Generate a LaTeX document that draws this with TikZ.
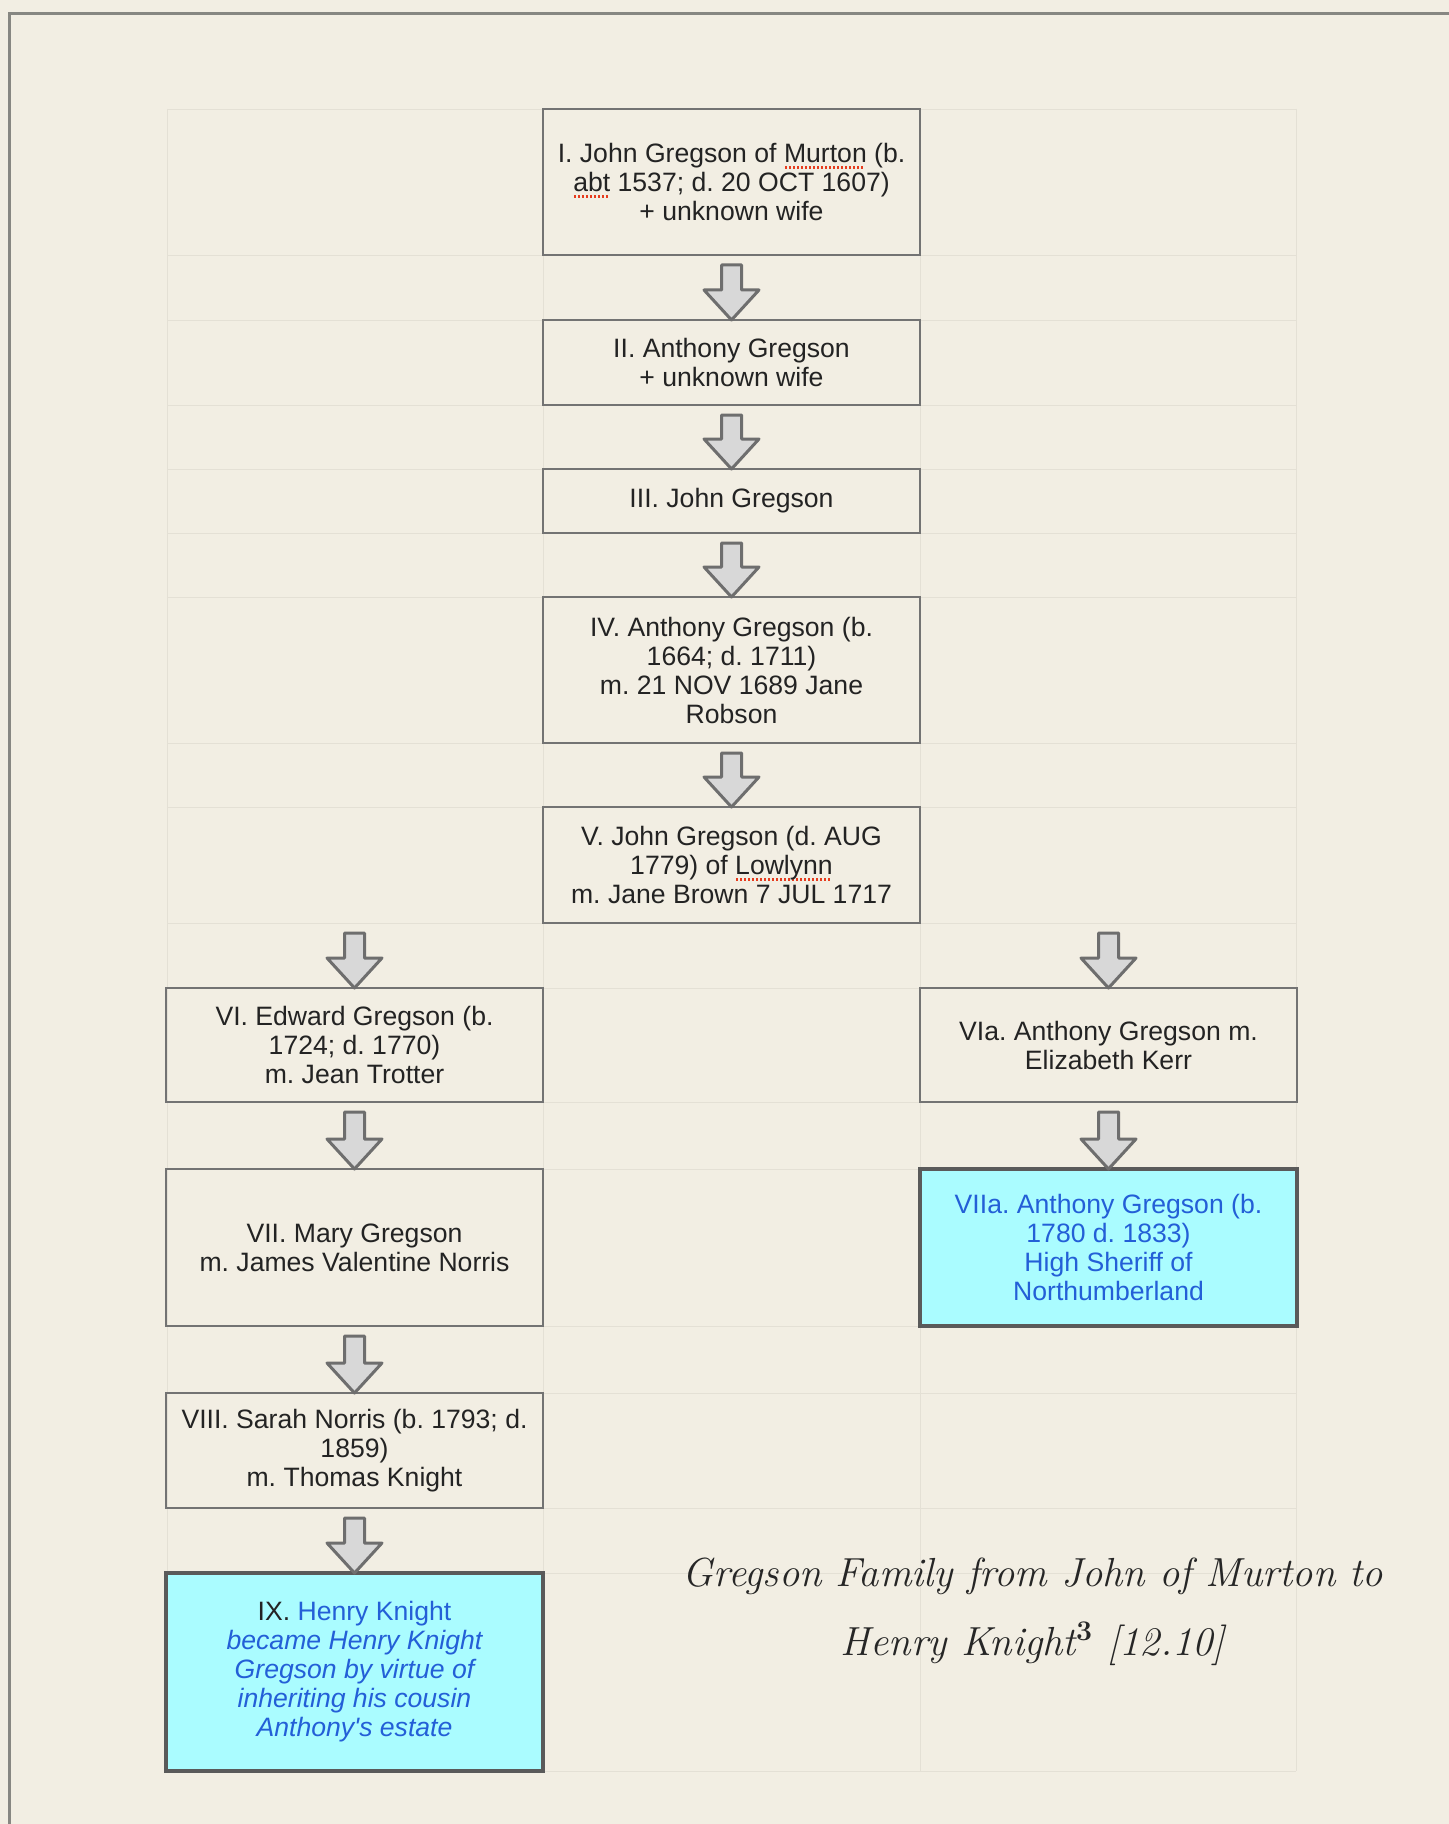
\documentclass[tikz,border=0pt]{standalone}
\usepackage{fontspec}
\usetikzlibrary{positioning,calc}
\newfontfamily\boxfont{Liberation Sans}
\definecolor{bgcream}{RGB}{242,238,227}
\definecolor{gridline}{RGB}{228,224,213}
\definecolor{frameline}{RGB}{135,135,130}
\definecolor{boxline}{RGB}{115,115,115}
\definecolor{textgray}{RGB}{35,35,35}
\definecolor{arrowfill}{RGB}{216,216,216}
\definecolor{arrowline}{RGB}{110,110,110}
\definecolor{hilite}{RGB}{170,252,255}
\definecolor{hiliteline}{RGB}{90,90,90}
\definecolor{linkblue}{RGB}{35,95,215}
\definecolor{spellred}{RGB}{230,60,30}
\newsavebox\spellbox
\newcommand\spell[1]{\sbox\spellbox{#1}\leavevmode\rlap{\raisebox{-3pt}{\color{spellred}\hbox to \wd\spellbox{\leaders\hbox to 2pt{\hss\rule{1.1pt}{1.1pt}\hss}\hfill}}}\usebox\spellbox}

\begin{document}
\begin{tikzpicture}[x=0.5pt, y=-0.5pt,
  box/.style={draw=boxline, line width=1pt, outer sep=0pt, minimum width=188.5pt, inner sep=2pt,
    align=center, text=textgray, font=\boxfont\fontsize{13.3}{14.5}\selectfont\frenchspacing},
  keybox/.style={box, fill=hilite, draw=hiliteline, line width=2pt, text=linkblue},
  flow/.style={draw=arrowline, fill=arrowfill, line width=1.5pt, line join=round,
    to path={($(\tikztotarget |- \tikztostart)+(-5pt,-5pt)$)
      -- ($(\tikztotarget)+(-5pt,15pt)$) -- ($(\tikztotarget)+(-13.75pt,15pt)$)
      -- (\tikztotarget) -- ($(\tikztotarget)+(13.75pt,15pt)$)
      -- ($(\tikztotarget)+(5pt,15pt)$)
      -- ($(\tikztotarget |- \tikztostart)+(5pt,-5pt)$) -- cycle}},
  caption/.style={align=center, font=\itshape\fontsize{20.3}{34.7}\selectfont, text=black!85}]
  \useasboundingbox (0,0) rectangle (1449,1824);
  \fill[bgcream] (0,0) rectangle (1449,1824);
  \draw[frameline, line width=1.5pt] (9,1824) -- (9,14) -- (1449,14);
  % faint table grid
  \foreach \yy in {109,255,320,405,469,533,597,743,807,923,988,1102,1169,1326,1393,1508,1573,1771}
    \draw[gridline] (167,\yy) -- (1296,\yy);
  \foreach \xx in {167,543,920,1296}
    \draw[gridline] (\xx,109) -- (\xx,1771);

  % Define generations
  \node[box, minimum height=73pt] (I) at (731.5,182)
    {I. John Gregson of \spell{Murton} (b.\\ \spell{abt} 1537; d. 20 OCT 1607)\\+ unknown wife};
  \node[box, minimum height=42.5pt, below=32.5pt of I] (II)
    {II. Anthony Gregson\\+ unknown wife};
  \node[box, minimum height=32pt, below=32pt of II] (III) {III. John Gregson};
  \node[box, minimum height=73pt, below=32pt of III] (IV)
    {IV. Anthony Gregson (b.\\1664; d. 1711)\\m. 21 NOV 1689 Jane\\Robson};
  \node[box, minimum height=58pt, below=32pt of IV] (V)
    {V. John Gregson (d. AUG\\1779) of \spell{Lowlynn}\\m. Jane Brown 7 JUL 1717};
  % two lines
  \node[box, minimum height=57pt, below left=32.5pt and 0pt of V.south west] (VI)
    {VI. Edward Gregson (b.\\1724; d. 1770)\\m. Jean Trotter};
  \node[box, minimum height=57pt, below right=32.5pt and 0pt of V.south east] (VIa)
    {VIa. Anthony Gregson m.\\Elizabeth Kerr};
  \node[box, minimum height=78.5pt, below=33.5pt of VI] (VII)
    {VII. Mary Gregson\\m. James Valentine Norris};
  \node[keybox, minimum height=78.5pt, below=33.5pt of VIa] (VIIa)
    {VIIa. Anthony Gregson (b.\\1780 d. 1833)\\High Sheriff of\\Northumberland};
  \node[box, minimum height=57.5pt, below=33.5pt of VII] (VIII)
    {VIII. Sarah Norris (b. 1793; d.\\1859)\\m. Thomas Knight};
  \node[keybox, minimum height=99pt, below=32.5pt of VIII] (IX)
    {\textcolor{textgray}{IX.} Henry Knight\\\itshape became Henry Knight\\\itshape Gregson by virtue of\\\itshape inheriting his cousin\\\itshape Anthony's estate};

  % Draw descent arrows
  \draw[flow] (I.south) to (II.north);
  \draw[flow] (II.south) to (III.north);
  \draw[flow] (III.south) to (IV.north);
  \draw[flow] (IV.south) to (V.north);
  \draw[flow] (V.south) to (VI.north);
  \draw[flow] (V.south) to (VIa.north);
  \draw[flow] (VI.south) to (VII.north);
  \draw[flow] (VIa.south) to (VIIa.north);
  \draw[flow] (VII.south) to (VIII.north);
  \draw[flow] (VIII.south) to (IX.north);

  \node[caption] (title) at (1033,1612)
    {Gregson Family from John of Murton to\\Henry Knight\textsuperscript{\upshape\bfseries 3} [12.10]};
\end{tikzpicture}
\end{document}
